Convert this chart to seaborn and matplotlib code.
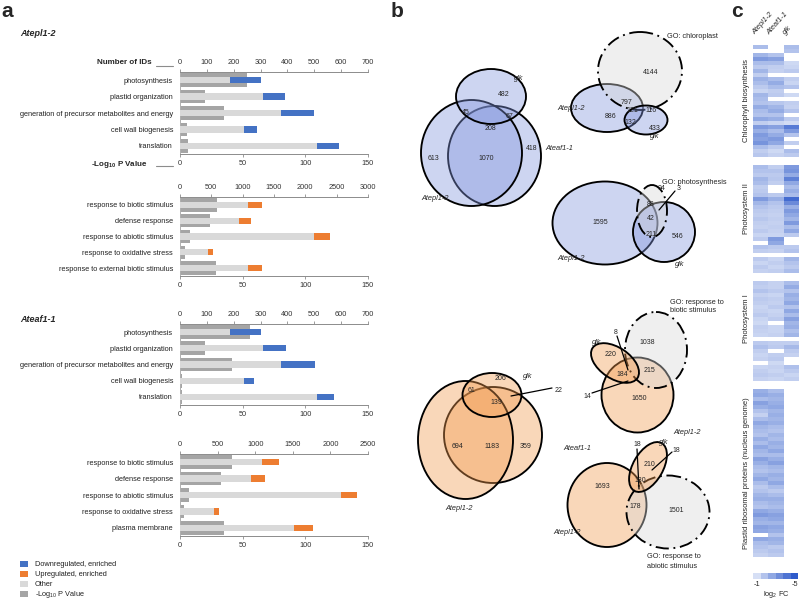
import numpy as np
import pandas as pd
import matplotlib
matplotlib.use("Agg")
import matplotlib.pyplot as plt
from matplotlib.patches import Ellipse, Rectangle
from matplotlib.colors import LinearSegmentedColormap
import seaborn as sns

# ---------------- panel a: GO enrichment ----------------
down_terms = ["photosynthesis", "plastid organization",
              "generation of precursor metabolites and energy",
              "cell wall biogenesis", "translation"]
up_terms_epl = ["response to biotic stimulus", "defense response",
                "response to abiotic stimulus", "response to oxidative stress",
                "response to external biotic stimulus"]
up_terms_eaf = ["response to biotic stimulus", "defense response",
                "response to abiotic stimulus", "response to oxidative stress",
                "plasma membrane"]

epl_down_other = [186, 308, 377, 238, 510]
epl_down_enriched = [116, 84, 123, 48, 83]
epl_down_logp = [53.5, 20, 35, 5.5, 6.5]

epl_up_other = [1092, 949, 2142, 448, 1092]
epl_up_enriched = [224, 186, 256, 74, 219]
epl_up_logp = [29.6, 24.2, 8, 4.3, 29]

eaf_down_other = [186, 308, 376, 238, 510]
eaf_down_enriched = [115, 85, 128, 38, 63]
eaf_down_logp = [55.7, 20, 41.6, 1.6, 1.6]

eaf_up_other = [1095, 950, 2138, 446, 1511]
eaf_up_enriched = [217, 181, 216, 71, 251]
eaf_up_logp = [41.3, 33.1, 7.2, 3.4, 35.5]

legend_labels = ["Downregulated, enriched", "Upregulated, enriched", "Other",
                 r"-Log$_{10}$ P Value"]

# ---------------- panel b: Venn counts ----------------
venn_blue_counts = [482, 45, 67, 208, 613, 1070, 418]
venn_chloro_counts = [4144, 797, 121, 116, 886, 132, 433]
venn_photo_counts = [1595, 88, 94, 42, 3, 211, 546]
venn_orange_counts = [206, 61, 139, 22, 694, 1183, 359]
venn_biotic_counts = [1038, 220, 8, 14, 184, 215, 1650]
venn_abiotic_counts = [18, 210, 18, 180, 1693, 178, 1501]

# ---------------- panel c: log2 FC heatmap ----------------
nan = np.nan
hm_columns = ["Atepl1-2", "Ateaf1-1", "glk"]
chlorophyll_fc = [
    [-2.0, nan, -2.0], [nan, nan, -1.8], [-2.2, -1.8, nan], [-3.0, -2.8, nan],
    [-2.0, -2.0, -1.2], [-1.6, -1.5, -1.3], [-2.2, -1.4, -1.6], [-1.5, nan, nan],
    [-2.3, -2.0, -1.5], [-2.0, -2.5, -1.3], [-1.6, -2.0, -1.8], [-1.3, -1.5, nan],
    [-2.2, -1.6, -1.2], [-2.0, nan, nan], [-1.8, -1.7, -1.5], [-2.5, -2.2, -1.4],
    [-2.0, -2.5, -1.8], [-1.8, -1.8, nan], [-2.6, -2.4, -1.6], [-1.5, -1.3, -1.1],
    [-3.0, -2.8, -4.0], [-2.4, -2.0, -3.0], [-3.0, -2.5, -1.8], [-2.8, -3.0, nan],
    [-3.2, -2.6, -1.5], [-2.0, -1.6, nan], [-1.5, -1.2, -2.0], [-1.7, -1.4, -1.6],
]
psii_fc = [
    [-2.0, -1.5, -3.0], [-1.8, -1.8, -3.2], [-1.6, -1.6, -2.5], [-2.2, -1.7, -3.8],
    [-2.0, -1.5, -2.6], [-1.5, nan, -2.0], [-1.6, nan, -2.4], [-1.8, -1.6, -2.0],
    [-3.0, -2.4, -4.5], [-2.2, -1.8, -3.5], [-1.8, -1.6, -2.4], [-1.6, -1.5, -3.0],
    [-1.5, -1.4, -2.6], [-1.7, -1.5, -2.2], [-1.5, -1.4, -3.0], [-1.4, -1.5, -2.0],
    [-1.6, -1.4, -2.6], [-1.3, -1.3, -1.6], [-1.6, -3.0, nan], [nan, -2.6, nan],
    [-1.8, -1.6, -1.6], [-1.5, -1.4, -1.8],
]
psi_fc = [
    [-1.6, -1.3, -2.2], [-1.3, -1.5, -1.8], [-1.6, -1.3, -1.6], [-1.4, -1.5, -2.0],
    [nan, nan, nan], [nan, nan, nan], [-1.6, -1.4, -2.0], [-1.5, -1.4, -2.5],
    [-1.8, -1.6, -1.8], [-1.4, -1.3, -2.4], [-1.6, -1.5, -2.2], [-1.5, -1.4, -2.6],
    [-1.3, -1.6, -1.8], [-1.4, -1.3, -2.6], [-1.6, -1.4, -2.0], [-1.3, -1.6, -2.8],
    [-1.2, nan, -2.2], [-1.5, -1.3, -2.4], [-1.4, -1.3, -1.9], [-1.3, -1.4, -2.2],
    [nan, nan, nan], [-1.6, -1.5, -1.5], [-1.9, -1.6, -2.1], [-1.5, nan, -1.6],
    [-1.3, -1.5, -1.4], [-1.4, -1.6, nan], [nan, -1.2, nan], [-1.3, -1.4, -1.9],
    [-1.5, -1.3, -1.6], [-1.6, -1.5, -1.3], [-1.4, -1.3, -1.5],
]
ribosomal_fc = [
    [-2.4, -2.0, nan], [-2.6, -2.4, nan], [-2.0, -2.2, nan], [-2.8, -2.4, nan],
    [-2.4, -2.6, nan], [-1.8, -2.2, nan], [-1.4, -2.4, nan], [-2.0, -2.2, nan],
    [-2.6, -2.4, nan], [-2.2, -2.0, nan], [-2.0, -1.8, nan], [-1.8, -2.2, nan],
    [-2.4, -2.0, nan], [-2.0, -2.4, nan], [-2.6, -2.2, nan], [-2.2, -2.6, nan],
    [-2.0, -2.0, nan], [-2.8, -2.4, nan], [-2.4, -2.8, nan], [-2.0, -2.2, nan],
    [-1.8, -2.0, nan], [-2.2, -2.4, nan], [-2.6, -2.2, nan], [-2.0, -2.6, nan],
    [-1.6, -2.0, nan], [-1.8, -1.6, nan], [-2.2, -2.0, nan], [-2.4, -2.4, nan],
    [-2.0, -2.2, nan], [-1.8, -2.0, nan], [-2.6, -2.4, nan], [-3.0, -2.8, nan],
    [-2.4, -2.6, nan], [-2.2, -2.2, nan], [-2.8, -2.6, nan], [-2.6, -2.4, nan],
    [nan, -1.8, nan], [-2.6, -2.4, nan], [-2.0, -2.2, nan], [-1.8, -1.6, nan],
    [-1.6, -1.8, nan], [-1.4, -1.6, nan],
]
section_names = ["Chlorophyll biosynthesis", "Photosystem II", "Photosystem I",
                 "Plastid ribosomal proteins (nucleus genome)"]
cbar_levels = [-1, -1.8, -2.6, -3.4, -4.2, -5]

# ---------------- style ----------------
BLUE = "#4472c4"
ORANGE = "#ed7d31"
LIGHT = "#d9d9d9"
DARK = "#a5a5a5"
AXIS = "#8c8c8c"
TEXT = "#333333"

sns.set_style("white")
plt.rcParams["font.family"] = ["Liberation Sans", "DejaVu Sans"]
plt.rcParams["mathtext.fontset"] = "custom"
plt.rcParams["mathtext.rm"] = "Liberation Sans"
plt.rcParams["mathtext.it"] = "Liberation Sans:italic"
plt.rcParams["mathtext.bf"] = "Liberation Sans:bold"

W, H = 800, 599
fig = plt.figure(figsize=(8, 5.99), dpi=100)


def px_axes(x0, y0, x1, y1, **kw):
    return fig.add_axes([x0 / W, 1 - y1 / H, (x1 - x0) / W, (y1 - y0) / H], **kw)


def go_chart(top, bottom, terms, other, enriched, logp, color, count_max, count_step):
    ax = px_axes(180, top, 368, bottom)
    sns.barplot(x=logp, y=terms, color=DARK, width=0.84, saturation=1,
                errorbar=None, linewidth=0, ax=ax)
    ax.set_xlim(0, 150)
    ax.set_xticks([0, 50, 100, 150])
    axt = ax.twiny()
    total = [o + e for o, e in zip(other, enriched)]
    sns.barplot(x=total, y=terms, color=color, width=0.38, saturation=1,
                errorbar=None, linewidth=0, ax=axt)
    sns.barplot(x=other, y=terms, color=LIGHT, width=0.38, saturation=1,
                errorbar=None, linewidth=0, ax=axt)
    axt.set_xlim(0, count_max)
    axt.set_xticks(np.arange(0, count_max + 1, count_step))
    ax.set_ylim(len(terms) - 0.5, -0.5)
    for a in (ax, axt):
        a.set_xlabel("")
        a.set_ylabel("")
    ax.spines["top"].set_visible(False)
    ax.spines["right"].set_visible(False)
    ax.spines["left"].set_color("#b0b0b0")
    ax.spines["bottom"].set_color(AXIS)
    for s in ("bottom", "left", "right"):
        axt.spines[s].set_visible(False)
    axt.spines["top"].set_color(AXIS)
    for a in (ax, axt):
        for sp in a.spines.values():
            sp.set_linewidth(0.7)
    ax.tick_params(axis="y", length=0, pad=5, labelsize=5.3, labelcolor="#222222")
    ax.tick_params(axis="x", length=2, width=0.6, color=AXIS, labelsize=5.3,
                   labelcolor=TEXT, pad=2.5)
    axt.tick_params(axis="x", length=2, width=0.6, color=AXIS, labelsize=5.3,
                    labelcolor=TEXT, pad=2)
    return ax, axt


go_chart(72, 154, down_terms, epl_down_other, epl_down_enriched, epl_down_logp, BLUE, 700, 100)
go_chart(197, 276, up_terms_epl, epl_up_other, epl_up_enriched, epl_up_logp, ORANGE, 3000, 500)
go_chart(324, 405, down_terms, eaf_down_other, eaf_down_enriched, eaf_down_logp, BLUE, 700, 100)
go_chart(454, 536, up_terms_eaf, eaf_up_other, eaf_up_enriched, eaf_up_logp, ORANGE, 2500, 500)

# ---------------- panel c heatmap ----------------
fc_cmap = LinearSegmentedColormap.from_list("fc", ["#2f5bcb", "#7f9ade", "#d6dff5"])
gap = [[nan, nan, nan]]
hm = pd.DataFrame(chlorophyll_fc + gap * 2 + psii_fc + gap + psi_fc + gap * 2 + ribosomal_fc,
                  columns=hm_columns)
axh = px_axes(753, 45, 799, 557)
sns.heatmap(hm, cmap=fc_cmap, vmin=-5, vmax=-1, cbar=False,
            xticklabels=False, yticklabels=False, ax=axh)

axc = px_axes(753, 573, 798, 579)
sns.heatmap(pd.DataFrame([cbar_levels]), cmap=fc_cmap, vmin=-5, vmax=-1, cbar=False,
            xticklabels=False, yticklabels=False, ax=axc)

# ---------------- overlay: labels, legend, Venn diagrams ----------------
ov = px_axes(0, 0, W, H)
ov.set_xlim(0, W)
ov.set_ylim(H, 0)
ov.axis("off")

for letter, x in (("a", 1), ("b", 391), ("c", 731)):
    ov.text(x, 17, letter, fontsize=15, fontweight="bold", va="baseline", ha="left")

ov.text(20, 34, "Atepl1-2", fontsize=6.5, fontweight="bold", style="italic", va="center")
ov.text(20, 319, "Ateaf1-1", fontsize=6.5, fontweight="bold", style="italic", va="center")
ov.text(152, 63, "Number of IDs", fontsize=5.8, fontweight="bold", ha="right", va="center")
ov.plot([156, 173], [65.5, 65.5], color=AXIS, lw=0.8)
ov.text(148, 164, r"-Log$_\mathbf{10}$ P Value", fontsize=5.8, fontweight="bold",
        ha="right", va="center")
ov.plot([156, 173], [165.5, 165.5], color=AXIS, lw=0.8)

for i, (lab, col) in enumerate(zip(legend_labels, [BLUE, ORANGE, LIGHT, DARK])):
    y = 564 + i * 10
    ov.add_patch(Rectangle((20, y - 3), 8, 6, facecolor=col, edgecolor="none"))
    ov.text(35, y, lab, fontsize=5.3, va="center", ha="left", color="#222222")

FILL = {"blue": ("#8296de", 0.4), "orange": ("#f29b50", 0.4), "go": ("#d9d9d9", 0.4)}


def draw_venn(sets, counts, count_pos, names, leaders=()):
    z = 2
    for cx, cy, w, h, ang, kind in sets:
        fc, a = FILL[kind]
        ls = (0, (7, 2.5, 1, 2.5)) if kind == "go" else "solid"
        ov.add_patch(Ellipse((cx, cy), w, h, angle=ang, facecolor=fc, alpha=a,
                             edgecolor="none", zorder=z))
        ov.add_patch(Ellipse((cx, cy), w, h, angle=ang, facecolor="none",
                             edgecolor="black", lw=1.35, linestyle=ls, zorder=z + 1))
        z += 2
    for (x0, y0), (x1, y1) in leaders:
        ov.plot([x0, x1], [y0, y1], color="black", lw=0.9, zorder=20)
    for n, (x, y) in zip(counts, count_pos):
        ov.text(x, y, str(n), fontsize=5, ha="center", va="center", zorder=21)
    for txt, x, y, ha, it in names:
        ov.text(x, y, txt, fontsize=5.3, ha=ha, va="center",
                style="italic" if it else "normal", zorder=21)


draw_venn([(494.5, 156, 93, 100, 0, "blue"), (471.5, 153, 101, 106, 0, "blue"),
           (491, 96.5, 70, 55, 0, "blue")],
          venn_blue_counts,
          [(504, 94), (466, 113), (510, 117), (490, 128), (433, 159), (486, 159), (532, 148)],
          [("glk", 514, 79, "left", True), ("Ateaf1-1", 545, 149, "left", True),
           ("Atepl1-2", 435, 199, "center", True)])

draw_venn([(607, 108, 72, 48, 0, "blue"), (640, 71, 84, 78, 0, "go"),
           (646, 120, 43, 29, 0, "blue")],
          venn_chloro_counts,
          [(651, 72), (627, 102), (632, 111), (651, 111), (611, 117), (630, 122), (655, 129)],
          [("Atepl1-2", 571, 108, "center", True), ("glk", 655, 136, "center", True),
           ("GO: chloroplast", 667, 37, "left", False)])

draw_venn([(605, 223, 105, 83, 0, "blue"), (664, 232, 62, 60, 0, "blue"),
           (652, 211, 30, 52, 0, "go")],
          venn_photo_counts,
          [(600, 222), (651, 204), (662, 188), (651, 219), (679, 188), (651, 235), (678, 236)],
          [("GO: photosynthesis", 662, 182, "left", False), ("Atepl1-2", 571, 259, "center", True),
           ("glk", 680, 265, "center", True)],
          leaders=[((659, 210), (675, 191))])

draw_venn([(493, 435, 98, 96, 0, "orange"), (465.5, 440, 95, 118, 0, "orange"),
           (492, 395, 59, 44, 0, "orange")],
          venn_orange_counts,
          [(500, 379), (471, 390), (496, 402), (559, 391), (457, 446), (492, 446), (526, 446)],
          [("glk", 523, 377, "left", True), ("Ateaf1-1", 563, 448, "left", True),
           ("Atepl1-2", 459, 508, "center", True)],
          leaders=[((511, 396), (552, 388))])

draw_venn([(637.5, 395, 72, 75, 0, "orange"), (656, 350, 62, 76, 0, "go"),
           (615, 363, 54, 31, 34, "orange")],
          venn_biotic_counts,
          [(647, 343), (611, 355), (616, 332), (587, 396), (622, 374), (649, 371), (639, 398)],
          [("glk", 597, 343, "center", True), ("GO: response to", 670, 302, "left", False),
           ("biotic stimulus", 670, 311, "left", False), ("Atepl1-2", 673, 432, "left", True)],
          leaders=[((617, 336), (628, 370)), ((592, 393), (628, 381))])

draw_venn([(607, 505, 79, 84, 0, "orange"), (668, 512, 83, 73, 0, "go"),
           (648, 467, 55, 30, -60, "orange")],
          venn_abiotic_counts,
          [(637, 445), (649, 464), (676, 450), (640, 480), (602, 486), (635, 507), (676, 510)],
          [("glk", 659, 442, "left", True), ("Atepl1-2", 567, 533, "center", True),
           ("GO: response to", 647, 557, "left", False),
           ("abiotic stimulus", 647, 566, "left", False)],
          leaders=[((637, 449), (639, 489)), ((652, 470), (672, 452))])

# heatmap annotations
for name, xc in zip(hm_columns, [756, 771, 787]):
    ov.text(xc, 36, name, fontsize=5.3, style="italic", rotation=48,
            rotation_mode="anchor", ha="left", va="bottom")
for name, yc in zip(section_names, [101, 209, 319, 473]):
    ov.text(747, yc, name, fontsize=5.5, rotation=90, ha="center", va="center")
ov.text(757, 585, "-1", fontsize=5.3, ha="center", va="center")
ov.text(795, 585, "-5", fontsize=5.3, ha="center", va="center")
ov.text(776, 594, r"log$_2$ FC", fontsize=5.3, ha="center", va="center")

fig.savefig("out.png", dpi=100)
